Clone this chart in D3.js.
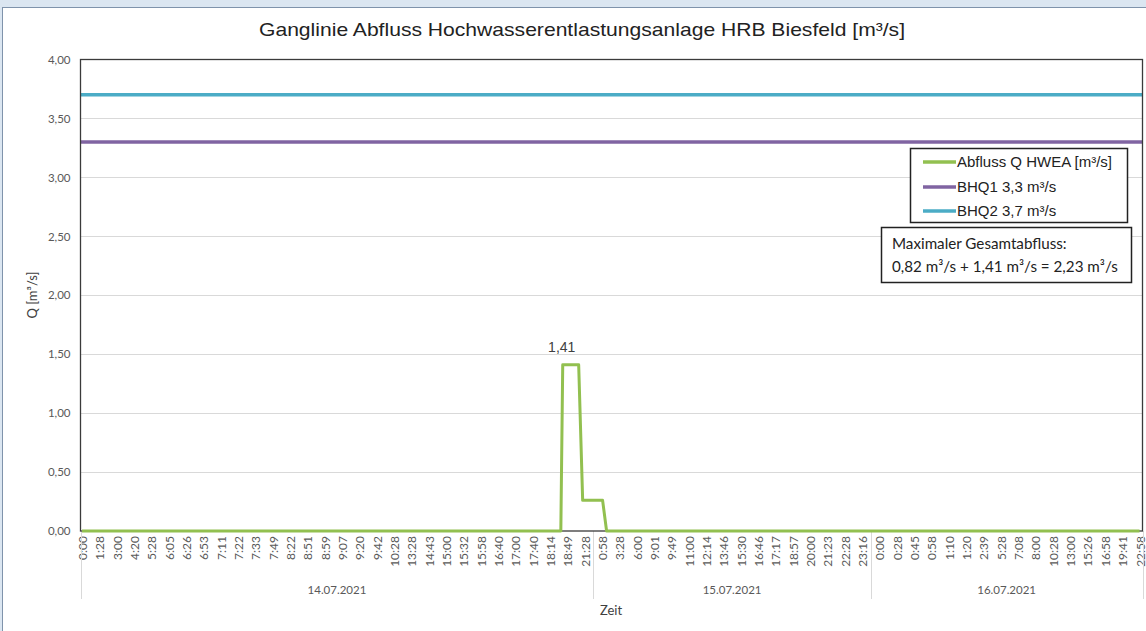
<!DOCTYPE html>
<html>
<head>
<meta charset="utf-8">
<script src="https://cdn.jsdelivr.net/npm/d3@7"></script>
<style>
  html, body { margin: 0; padding: 0; background: #dbe6f1; }
  svg { display: block; }
</style>
</head>
<body>
<svg id="chart" width="1146" height="631"></svg>
<script>
// ---------- data ----------
const xLabels = [
  "0:00","1:28","3:00","4:20","5:28","6:05","6:26","6:53","7:11","7:22","7:33","7:49","8:22","8:51","8:59",
  "9:07","9:20","9:42","10:28","13:28","14:43","15:00","15:32","15:58","16:40","17:00","17:40","18:14","18:49","21:28",
  "0:58","3:28","6:00","9:01","9:49","11:00","12:14","13:46","15:30","16:46","17:17","18:57","20:00","21:23","22:28","23:16",
  "0:00","0:28","0:45","0:58","1:10","1:20","2:39","5:28","7:08","8:00","10:28","13:00","15:26","16:58","19:41","22:58"
];
const dayLabels = ["14.07.2021", "15.07.2021", "16.07.2021"];
const dayCounts = [30, 16, 16];
// Abfluss Q HWEA: position along the category axis (label index) and value
const flowPos = [0, 27.62, 27.73, 28.65, 28.88, 30.03, 30.26, 61];
const flowVal = [0, 0, 1.41, 1.41, 0.26, 0.26, 0, 0];
const bhq1 = 3.3;
const bhq2 = 3.7;
const yTicks = [0, 0.5, 1, 1.5, 2, 2.5, 3, 3.5, 4];
const peakLabel = "1,41";
const seriesNames = ["Abfluss Q HWEA [m³/s]", "BHQ1 3,3 m³/s", "BHQ2 3,7 m³/s"];
const seriesColors = ["#92c050", "#8064a2", "#4bacc6"];
const noteLines = ["Maximaler Gesamtabfluss:", "0,82 m³/s + 1,41 m³/s = 2,23 m³/s"];

// ---------- layout ----------
const svg = d3.select("#chart");
const L = 80.5, R = 1142.5, T = 59.5, B = 531;
const fmt = v => d3.format(".2f")(v).replace(".", ",");

// chart frame
svg.append("rect").attr("x", 2.5).attr("y", 7.5).attr("width", 1150).attr("height", 630)
  .attr("fill", "#ffffff").attr("stroke", "#7f93ab").attr("stroke-width", 1);

const x = d3.scaleLinear().domain([0, xLabels.length - 1]).range([L + 1.5, R - 3]);
const y = d3.scaleLinear().domain([0, 4]).range([B, T]);

// title
svg.append("text").attr("x", 582).attr("y", 36).attr("text-anchor", "middle")
  .attr("font-family", "Liberation Sans, Arial, sans-serif").attr("font-size", 19)
  .attr("fill", "#222").attr("textLength", 646).attr("lengthAdjust", "spacingAndGlyphs")
  .text("Ganglinie Abfluss Hochwasserentlastungsanlage HRB Biesfeld [m³/s]");

// gridlines
svg.append("g").selectAll("line").data(yTicks.filter(v => v > 0 && v < 4)).join("line")
  .attr("x1", L).attr("x2", R).attr("y1", d => Math.round(y(d)) + 0.5).attr("y2", d => Math.round(y(d)) + 0.5)
  .attr("stroke", "#d9d9d9").attr("stroke-width", 1);

// y axis labels
const yAxis = d3.axisLeft(y).tickValues(yTicks).tickFormat(fmt).tickSize(0).tickPadding(10);
const yg = svg.append("g").attr("transform", `translate(${L},0)`).call(yAxis);
yg.select(".domain").remove();
yg.selectAll("text").attr("font-family", "Lato, Carlito, sans-serif").attr("font-size", 11.5).attr("fill", "#595959");

// y title
svg.append("text").attr("transform", "translate(37,295) rotate(-90)").attr("text-anchor", "middle")
  .attr("font-family", "Lato, Carlito, sans-serif").attr("font-size", 13).attr("fill", "#404040")
  .text("Q [m³/s]");

// x tick labels
const xAxis = d3.axisBottom(x).tickValues(d3.range(xLabels.length)).tickFormat(i => xLabels[i]).tickSize(0).tickPadding(0);
const xg = svg.append("g").attr("transform", `translate(0,${B})`).call(xAxis);
xg.select(".domain").remove();
xg.selectAll("text").attr("font-family", "Lato, Carlito, sans-serif").attr("font-size", 12).attr("fill", "#595959")
  .attr("text-anchor", "end").attr("dy", null).attr("y", 0)
  .attr("transform", "translate(4.5,5) rotate(-90)");

// day separators and labels
let start = 0;
const bounds = [];
dayCounts.forEach(c => { bounds.push([start, start + c - 1]); start += c; });
const sepX = [L];
bounds.slice(0, -1).forEach(b => sepX.push((x(b[1]) + x(b[1] + 1)) / 2));
sepX.push(R);
svg.append("g").selectAll("line").data(sepX).join("line")
  .attr("x1", d => Math.round(d) + 0.5).attr("x2", d => Math.round(d) + 0.5)
  .attr("y1", B).attr("y2", 599).attr("stroke", "#d9d9d9").attr("stroke-width", 1);
svg.append("g").selectAll("text").data(dayLabels).join("text")
  .attr("x", (d, i) => (sepX[i] + sepX[i + 1]) / 2).attr("y", 594).attr("text-anchor", "middle")
  .attr("font-family", "Lato, Carlito, sans-serif").attr("font-size", 11.5).attr("fill", "#595959")
  .text(d => d);

// x title
svg.append("text").attr("x", 611).attr("y", 615).attr("text-anchor", "middle")
  .attr("font-family", "Lato, Carlito, sans-serif").attr("font-size", 13).attr("fill", "#404040")
  .text("Zeit");

// reference lines
const refs = [bhq2, bhq1];
svg.append("g").selectAll("line").data(refs).join("line")
  .attr("x1", L).attr("x2", R).attr("y1", d => y(d)).attr("y2", d => y(d))
  .attr("stroke", (d, i) => i === 0 ? seriesColors[2] : seriesColors[1]).attr("stroke-width", 3.5);

// plot border
svg.append("rect").attr("x", L).attr("y", T).attr("width", R - L).attr("height", B - T)
  .attr("fill", "none").attr("stroke", "#3a3a3a").attr("stroke-width", 1.3);

// flow line
const pts = flowPos.map((p, i) => [p, flowVal[i]]);
svg.append("path").datum(pts)
  .attr("d", d3.line().x(d => x(d[0])).y(d => y(d[1])))
  .attr("fill", "none").attr("stroke", seriesColors[0]).attr("stroke-width", 3)
  .attr("stroke-linejoin", "round");

// peak label
const peakIdx = flowVal.indexOf(d3.max(flowVal));
svg.append("text").attr("x", x(flowPos[peakIdx]) - 1).attr("y", y(flowVal[peakIdx]) - 13)
  .attr("text-anchor", "middle").attr("font-family", "Liberation Sans, Arial, sans-serif")
  .attr("font-size", 14).attr("fill", "#404040").text(peakLabel);

// legend
const lg = svg.append("g");
lg.append("rect").attr("x", 910.5).attr("y", 148.5).attr("width", 217).attr("height", 74)
  .attr("fill", "#fff").attr("stroke", "#222").attr("stroke-width", 1.5);
const rowsY = [162, 187, 211];
seriesNames.forEach((n, i) => {
  lg.append("line").attr("x1", 923).attr("x2", 956).attr("y1", rowsY[i]).attr("y2", rowsY[i])
    .attr("stroke", seriesColors[i]).attr("stroke-width", 3.5);
  lg.append("text").attr("x", 957).attr("y", rowsY[i] + 5)
    .attr("font-family", "Liberation Sans, Arial, sans-serif").attr("font-size", 15).attr("fill", "#222")
    .text(n);
});

// annotation box
const ng = svg.append("g");
ng.append("rect").attr("x", 881.5).attr("y", 227.5).attr("width", 250).attr("height", 55)
  .attr("fill", "#fff").attr("stroke", "#222").attr("stroke-width", 1.5);
noteLines.forEach((t, i) => {
  ng.append("text").attr("x", 892).attr("y", 249 + i * 23)
    .attr("font-family", "Lato, Carlito, sans-serif").attr("font-size", 15.2).attr("fill", "#222")
    .text(t);
});
</script>
</body>
</html>
